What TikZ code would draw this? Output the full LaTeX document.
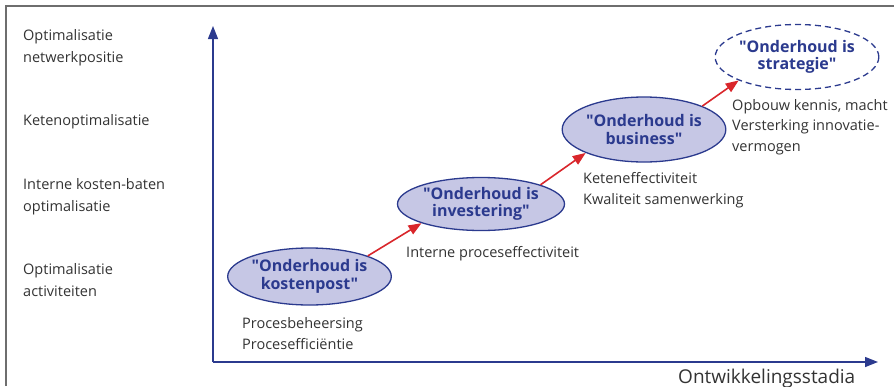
\documentclass[tikz,border=0pt]{standalone}
\usepackage{fontspec}
\setmainfont{Open Sans}
\newfontfamily\stagefont{Open Sans}
\usetikzlibrary{arrows.meta,shapes.geometric}
\definecolor{axisblue}{HTML}{2B3A8E}
\definecolor{ellfill}{HTML}{C6C7E5}
\definecolor{arrred}{HTML}{D9262B}
\definecolor{txtgray}{HTML}{333333}
\definecolor{framegray}{HTML}{6E6E6E}
\begin{document}
\begin{tikzpicture}[x=1pt,y=-1pt,
  lbl/.style={anchor=base west,inner sep=0pt,text=txtgray,font=\fontsize{14.5}{21.5}\selectfont,align=left},
  desc/.style={lbl,font=\fontsize{14.5}{20.5}\selectfont},
  stage/.style={ellipse,draw=axisblue,line width=1.3pt,fill=ellfill,inner sep=0pt,text=axisblue,
     font=\stagefont\fontsize{16}{17.5}\selectfont\bfseries,align=center},
  redarrow/.style={draw=arrred,line width=1.6pt,-{Triangle[length=13pt,width=10pt]}},
  axisarrow/.style={draw=axisblue,line width=1.4pt,-{Triangle[length=13pt,width=10pt]}}]
\useasboundingbox (0,0) rectangle (894,386);
% frame
\draw[framegray,line width=1.4pt] (6,386) -- (6,6) -- (894,6);
% axes
\coordinate (origin) at (213,362);
\coordinate (ytip) at (213,26);
\coordinate (xtip) at (878,362);
\draw[axisarrow] (origin) -- (ytip);
\draw[axisarrow] (origin) -- (xtip);
% left labels (anchored at baseline of last line)
\node[lbl] (l1) at (23,62) {Optimalisatie\\netwerkpositie};
\node[lbl] (l2) at (23,125.5) {Ketenoptimalisatie};
\node[lbl] (l3) at (23,211) {Interne kosten-baten\\optimalisatie};
\node[lbl] (l4) at (23,296) {Optimalisatie\\activiteiten};
% stages
\node[stage,minimum width=157pt,minimum height=57pt] (s1) at (309.5,276.5) {"Onderhoud is\\kostenpost"};
\node[stage,minimum width=167pt,minimum height=53pt] (s2) at (481,204) {"Onderhoud is\\investering"};
\node[stage,minimum width=162pt,minimum height=65pt] (s3) at (644,129.5) {"Onderhoud is\\business"};
\node[stage,dashed,dash pattern=on 6pt off 4pt,fill=white,minimum width=159pt,minimum height=65pt] (s4) at (797,57) {"Onderhoud is\\strategie"};
% arrows
\draw[redarrow] (s1.north east) -- (s2.south west);
\draw[redarrow] (s2.north east) -- (s3.south west);
\draw[redarrow] (s3.north east) -- (s4.south west);
% descriptions
\node[desc] (d1) at (242,349) {Procesbeheersing\\Procesefficiëntie};
\node[desc] (d2) at (406,257) {Interne proceseffectiviteit};
\node[desc] (d3) at (583,204) {Keteneffectiviteit\\Kwaliteit samenwerking};
\node[desc] (d4) at (732,151) {Opbouw kennis, macht\\Versterking innovatie-\\vermogen};
\node[lbl,font=\fontsize{19}{22}\selectfont] (xl) at (678,383) {Ontwikkelingsstadia};
\end{tikzpicture}
\end{document}
